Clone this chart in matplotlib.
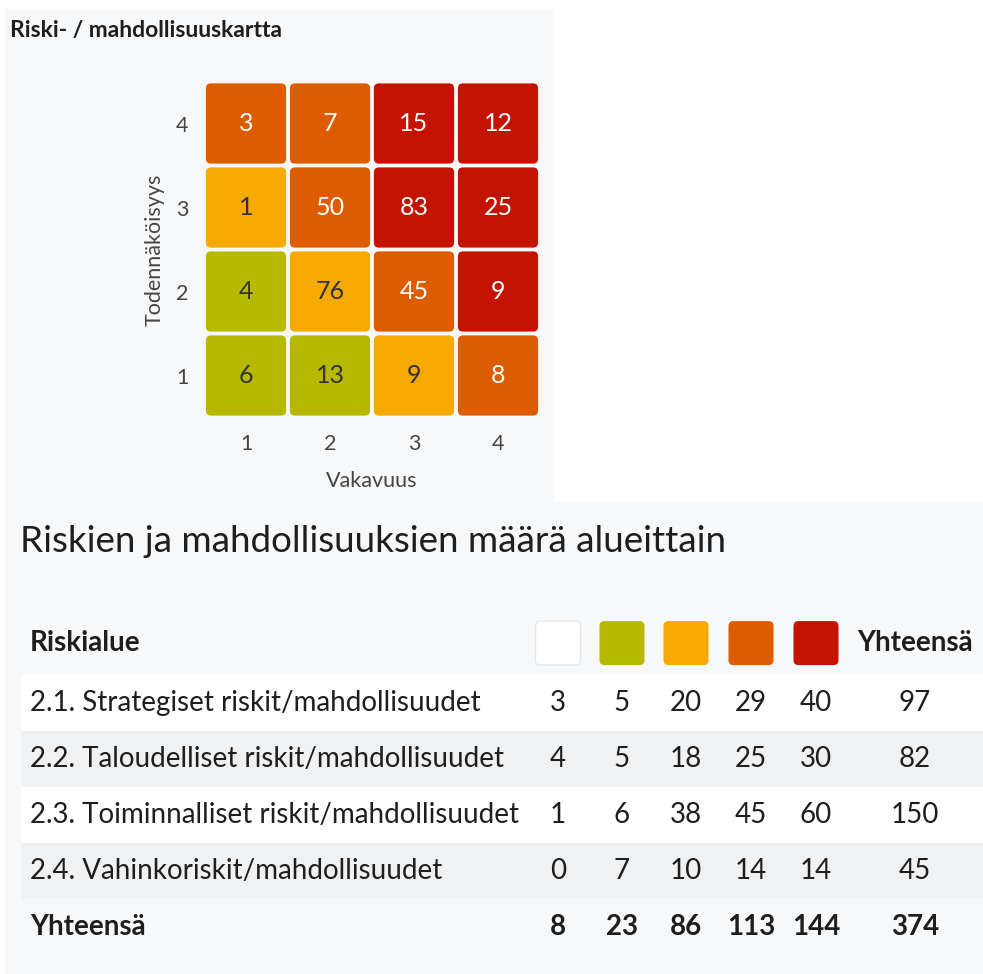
import numpy as np
import matplotlib.pyplot as plt
from matplotlib.patches import FancyBboxPatch, Rectangle

plt.rcParams['font.family'] = ['Lato', 'DejaVu Sans']

# heat map data (rows: probability 4..1, cols: severity 1..4)
severity = [1, 2, 3, 4]
probability = [4, 3, 2, 1]
counts = [[3, 7, 15, 12],
          [1, 50, 83, 25],
          [4, 76, 45, 9],
          [6, 13, 9, 8]]
levels = [[3, 3, 4, 4],
          [2, 3, 4, 4],
          [1, 2, 3, 4],
          [1, 1, 2, 3]]

# table data
areas = ['2.1. Strategiset riskit/mahdollisuudet',
         '2.2. Taloudelliset riskit/mahdollisuudet',
         '2.3. Toiminnalliset riskit/mahdollisuudet',
         '2.4. Vahinkoriskit/mahdollisuudet']
lvl0 = [3, 4, 1, 0]
lvl1 = [5, 5, 6, 7]
lvl2 = [20, 18, 38, 10]
lvl3 = [29, 25, 45, 14]
lvl4 = [40, 30, 60, 14]
row_totals = [97, 82, 150, 45]
col_totals = [8, 23, 86, 113, 144, 374]

level_colors = ['#ffffff', '#b6b900', '#f6a900', '#dd5c00', '#c41300']
panel = '#f7f8fa'
stripe = '#eff1f3'
ink = '#1e1e1e'

W, H = 983, 974
fig = plt.figure(figsize=(W / 100, H / 100), dpi=100)

# panel backgrounds
fig.patches.append(Rectangle((5 / W, 1 - 499 / H), 548 / W, 490 / H,
                             transform=fig.transFigure, color=panel, zorder=-5))
fig.patches.append(Rectangle((5 / W, 0), 978 / W, 1 - 501 / H,
                             transform=fig.transFigure, color=panel, zorder=-5))

fig.text(10 / W, 1 - 31 / H, 'Riski- / mahdollisuuskartta', fontsize=16.5,
         fontweight='bold', color=ink, va='center', ha='left')

# --- heat map
ax = fig.add_axes([204 / W, 1 - 417.5 / H, 336 / W, 336 / H])
ax.set_xlim(0.5, 4.5)
ax.set_ylim(0.5, 4.5)
ax.set_facecolor('none')
for s in ax.spines.values():
    s.set_visible(False)
g = 0.045
for r, p in enumerate(probability):
    for c, sv in enumerate(severity):
        lv = levels[r][c]
        ax.add_patch(FancyBboxPatch((sv - 0.5 + g / 2, p - 0.5 + g / 2), 1 - g, 1 - g,
                                    boxstyle='round,pad=0,rounding_size=0.06',
                                    fc=level_colors[lv], ec='none'))
        tc = 'white' if lv >= 3 else '#333333'
        ax.text(sv, p, str(counts[r][c]), ha='center', va='center',
                fontsize=18, color=tc)
ax.set_xticks(severity)
ax.set_yticks(probability)
ax.tick_params(length=0, labelsize=15.5, labelcolor='#444444')
ax.tick_params(axis='x', pad=12)
ax.tick_params(axis='y', pad=11)
ax.set_xlabel('Vakavuus', fontsize=15.5, color='#444444', labelpad=12)
ax.set_ylabel('Todennäköisyys', fontsize=15.5, color='#444444', labelpad=8)

# --- table
# row centre of row i (1..5) at 703 + 56*(i-1) px
top_u = 1 + (501 - 703) / 56
bot_u = 1 + (974 - 703) / 56
tx = fig.add_axes([0, 0, 1, 473 / H])
tx.set_xlim(0, W)
tx.set_ylim(bot_u, top_u)
tx.axis('off')

tx.text(20, 1 + (542 - 703) / 56, 'Riskien ja mahdollisuuksien määrä alueittain',
        fontsize=26.5, color=ink, ha='left', va='center')

fs = 20
col_x = [558, 622, 686, 751, 816, 915]
hdr = -0.07
tx.text(30, hdr, 'Riskialue', fontsize=fs, fontweight='bold', color=ink,
        ha='left', va='center')
for x, c in zip(col_x[:5], level_colors):
    tx.add_patch(FancyBboxPatch((x - 22.5, hdr - 22 / 56), 45, 44 / 56,
                                boxstyle='round,pad=0,rounding_size=5',
                                mutation_aspect=1 / 56, fc=c,
                                ec='#e4e6e9' if c == '#ffffff' else 'none', lw=1))
tx.text(col_x[5], hdr, 'Yhteensä', fontsize=fs, fontweight='bold', color=ink,
        ha='center', va='center')

cols = [lvl0, lvl1, lvl2, lvl3, lvl4, row_totals]
for i, name in enumerate(areas):
    y = i + 1
    tx.add_patch(Rectangle((22, y - 0.5), W - 22, 1,
                           fc='white' if i % 2 == 0 else stripe, ec='none'))
    tx.text(30, y, name, fontsize=fs, color=ink, ha='left', va='center')
    for x, col in zip(col_x, cols):
        tx.text(x, y, str(col[i]), fontsize=fs, color=ink, ha='center', va='center')

tx.text(30, 5, 'Yhteensä', fontsize=fs, fontweight='bold', color=ink,
        ha='left', va='center')
for x, v in zip(col_x, col_totals):
    tx.text(x, 5, str(v), fontsize=fs, fontweight='bold', color=ink,
            ha='center', va='center')

fig.savefig('out.png', dpi=100)
